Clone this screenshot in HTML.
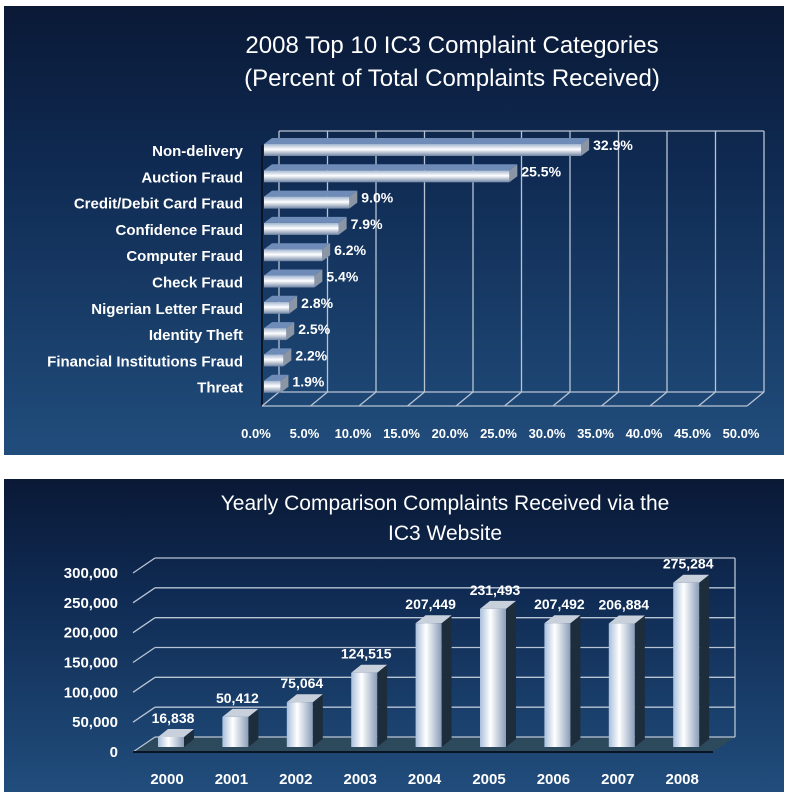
<!DOCTYPE html>
<html><head><meta charset="utf-8"><style>
body{margin:0;background:#fff;width:789px;height:800px;overflow:hidden;font-family:"Liberation Sans",sans-serif}
svg{display:block}
</style></head><body>
<svg width="789" height="800">
<defs>
<linearGradient id="bg" x1="0" y1="0" x2="0" y2="1"><stop offset="0" stop-color="#0a1936"/><stop offset="0.35" stop-color="#0f2a52"/><stop offset="1" stop-color="#214d7c"/></linearGradient>
<linearGradient id="hbar" x1="0" y1="0" x2="0" y2="1"><stop offset="0" stop-color="#9fb3cf"/><stop offset="0.45" stop-color="#ffffff"/><stop offset="1" stop-color="#6f84a4"/></linearGradient>
<linearGradient id="vbar" x1="0" y1="0" x2="1" y2="0"><stop offset="0" stop-color="#a9bfdc"/><stop offset="0.4" stop-color="#ffffff"/><stop offset="1" stop-color="#8a9db8"/></linearGradient>
</defs>
<rect x="4" y="6" width="780" height="449" fill="url(#bg)"/>
<rect x="4" y="479" width="780" height="313" fill="url(#bg)"/>
<g fill="#fff" font-size="24" text-anchor="middle">
<text x="452" y="53">2008 Top 10 IC3 Complaint Categories</text>
<text x="452" y="86">(Percent of Total Complaints Received)</text>
</g>
<g fill="#fff" font-size="21" text-anchor="middle">
<text x="445" y="510">Yearly Comparison Complaints Received via the</text>
<text x="445" y="540">IC3 Website</text>
</g>
<g id="topchart"></g>
<g id="botchart"></g>
</svg>
<script>
const categories=["Non-delivery","Auction Fraud","Credit/Debit Card Fraud","Confidence Fraud","Computer Fraud","Check Fraud","Nigerian Letter Fraud","Identity Theft","Financial Institutions Fraud","Threat"];
const percents=[32.9,25.5,9.0,7.9,6.2,5.4,2.8,2.5,2.2,1.9];
const pctTicks=["0.0%","5.0%","10.0%","15.0%","20.0%","25.0%","30.0%","35.0%","40.0%","45.0%","50.0%"];
const years=["2000","2001","2002","2003","2004","2005","2006","2007","2008"];
const complaints=[16838,50412,75064,124515,207449,231493,207492,206884,275284];
const yTicks=[0,50000,100000,150000,200000,250000,300000];
const NS="http://www.w3.org/2000/svg";
function mk(p,t,a,txt){const e=document.createElementNS(NS,t);for(const k in a)e.setAttribute(k,a[k]);if(txt!==undefined)e.textContent=txt;p.appendChild(e);return e;}
// top chart
const topG=document.getElementById('topchart');
const fx=v=>262+v*9.7, DX=17, DY=-14;
const rowY=i=>150+i*26.3;
const grid=mk(topG,'g',{stroke:'#b8c4d4','stroke-width':1.3,fill:'none'});


mk(grid,'line',{x1:fx(0),y1:406,x2:fx(50),y2:406});
mk(grid,'line',{x1:fx(0)+DX,y1:406+DY,x2:fx(50)+DX,y2:406+DY});
mk(grid,'line',{x1:fx(0),y1:145,x2:fx(0),y2:406,stroke:'#0a1424','stroke-width':2});
pctTicks.forEach((t,i)=>{const v=i*5;
 mk(grid,'line',{x1:fx(v),y1:406,x2:fx(v)+DX,y2:406+DY});
 mk(grid,'line',{x1:fx(v)+DX,y1:406+DY,x2:fx(v)+DX,y2:131});
 const tx=mk(topG,'text',{x:fx(v)-6,y:438,fill:'#fff','font-size':13,'font-weight':'bold','text-anchor':'middle'},t);
 
 
});
mk(grid,'line',{x1:fx(0)+DX,y1:131,x2:fx(50)+DX,y2:131});
categories.forEach((c,i)=>{const y=rowY(i),x1=fx(0)+2,x2=fx(percents[i]),h=12,dx=8,dy=-6;
 const g=mk(topG,'g',{});
 
 
 mk(g,'polygon',{points:`${x1},${y-h/2} ${x1+dx},${y-h/2+dy} ${x2+dx},${y-h/2+dy} ${x2},${y-h/2}`,fill:'#6f8cb8'});
 mk(g,'polygon',{points:`${x2},${y-h/2} ${x2+dx},${y-h/2+dy} ${x2+dx},${y+h/2+dy} ${x2},${y+h/2}`,fill:'#8a95a6'});
 mk(g,'rect',{x:x1,y:y-h/2,width:x2-x1,height:h,fill:'url(#hbar)'});
 const lb=mk(topG,'text',{x:243,y:y+6,fill:'#fff','font-size':15,'font-weight':'bold','text-anchor':'end'},c);
 
 
 const vl=mk(topG,'text',{x:x2+12,y:y,fill:'#fff','font-size':14,'font-weight':'bold'},percents[i].toFixed(1)+'%');
 
 
});
// bottom chart
const botG=document.getElementById('botchart');
const fy=v=>747-v*179/300000, BX=22, BY=-15, L=133, R=713;
const floor=mk(botG,'polygon',{points:`${L},752 ${L+BX},${752+BY} ${R+BX},${752+BY} ${R},752`,fill:'#2c4a5c'});


const g2=mk(botG,'g',{stroke:'#b8c4d4','stroke-width':1.3,fill:'none'});


yTicks.forEach(t=>{const y=fy(t)+5;
 mk(g2,'line',{x1:L,y1:y,x2:L+BX,y2:y+BY});
 mk(g2,'line',{x1:L+BX,y1:y+BY,x2:R+BX,y2:y+BY});
 const lb=mk(botG,'text',{x:118,y:y+5,fill:'#fff','font-size':15,'font-weight':'bold','text-anchor':'end'},t.toLocaleString('en-US'));
 
 
});
mk(g2,'line',{x1:R+BX,y1:fy(0)+5+BY,x2:R+BX,y2:fy(300000)+5+BY});
mk(g2,'line',{x1:L,y1:752,x2:R,y2:752,stroke:'#0a1424','stroke-width':2});
years.forEach((yr,i)=>{const cx=167+i*64.4,w=26,x=cx-w/2+4,top_=fy(complaints[i]),base=747,dx=10,dy=-8;
 const g=mk(botG,'g',{});
 
 
 mk(g,'polygon',{points:`${x+w},${top_} ${x+w+dx},${top_+dy} ${x+w+dx},${base+dy} ${x+w},${base}`,fill:'#1e2d3c'});
 mk(g,'polygon',{points:`${x},${top_} ${x+dx},${top_+dy} ${x+w+dx},${top_+dy} ${x+w},${top_}`,fill:'#c8d0dc'});
 mk(g,'rect',{x:x,y:top_,width:w,height:base-top_,fill:'url(#vbar)'});
 const vl=mk(botG,'text',{x:cx+6,y:top_-14,fill:'#fff','font-size':14,'font-weight':'bold','text-anchor':'middle'},complaints[i].toLocaleString('en-US'));
 
 
 const xl=mk(botG,'text',{x:cx,y:784,fill:'#fff','font-size':15,'font-weight':'bold','text-anchor':'middle'},yr);
 
 
});
</script>
</body></html>
